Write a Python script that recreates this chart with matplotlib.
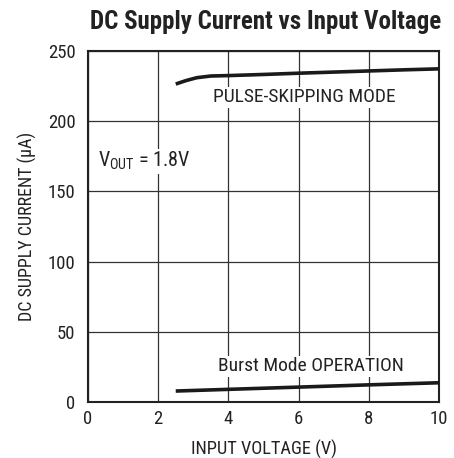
import numpy as np
import matplotlib
matplotlib.use("Agg")
import matplotlib.pyplot as plt

plt.rcParams['font.family'] = ['Roboto Condensed', 'DejaVu Sans']

# pulse-skipping mode curve
vin_ps = [2.5, 2.8, 3.1, 3.5, 4.0, 5.0, 6.0, 7.0, 8.0, 9.0, 10.0]
i_ps = [226.5, 229.0, 231.0, 232.2, 232.5, 233.3, 234.2, 235.0, 235.8, 236.6, 237.3]

# burst mode curve
vin_bm = [2.5, 4.0, 6.0, 8.0, 10.0]
i_bm = [7.8, 9.0, 10.6, 12.2, 13.7]

xticks = [0, 2, 4, 6, 8, 10]
yticks = [0, 50, 100, 150, 200, 250]

fig = plt.figure(figsize=(4.54, 4.58), dpi=100)
ax = fig.add_axes([0.1938, 0.1223, 0.7732, 0.7663])

ax.plot(vin_ps, i_ps, color='#1a1a1a', lw=2.6, solid_capstyle='butt', zorder=3)
ax.plot(vin_bm, i_bm, color='#1a1a1a', lw=2.6, solid_capstyle='butt', zorder=3)

ax.set_xlim(0, 10)
ax.set_ylim(0, 250)
ax.set_xticks(xticks)
ax.set_yticks(yticks)
ax.grid(True, color='#333333', lw=0.9)
ax.set_axisbelow(True)
ax.tick_params(length=0, labelsize=13.5, colors='#222222')
ax.tick_params(axis='y', pad=9)
ax.tick_params(axis='x', pad=6)
for s in ax.spines.values():
    s.set_linewidth(1.5)
    s.set_color('#222222')

bb = dict(facecolor='white', edgecolor='none', pad=1)
ax.text(6.15, 216.9, 'PULSE-SKIPPING MODE', ha='center', va='center', fontsize=14, color='#222222', bbox=bb, zorder=2)
ax.text(0.28, 171.6, r'V$_{\mathregular{OUT}}$ = 1.8V', ha='left', va='center', fontsize=14.5, color='#222222', bbox=bb, zorder=2)
ax.text(6.35, 25.3, 'Burst Mode OPERATION', ha='center', va='center', fontsize=14, color='#222222', bbox=bb, zorder=2)

ax.set_xlabel('INPUT VOLTAGE (V)', fontsize=13.2, color='#222222', labelpad=8)
ax.set_ylabel('DC SUPPLY CURRENT (\u00b5A)', fontsize=13, color='#222222', labelpad=8)
fig.text(0.584, 0.953, 'DC Supply Current vs Input Voltage', ha='center', va='center',
         fontsize=18, fontweight='bold', color='#222222')

fig.savefig('out.png', dpi=100)
